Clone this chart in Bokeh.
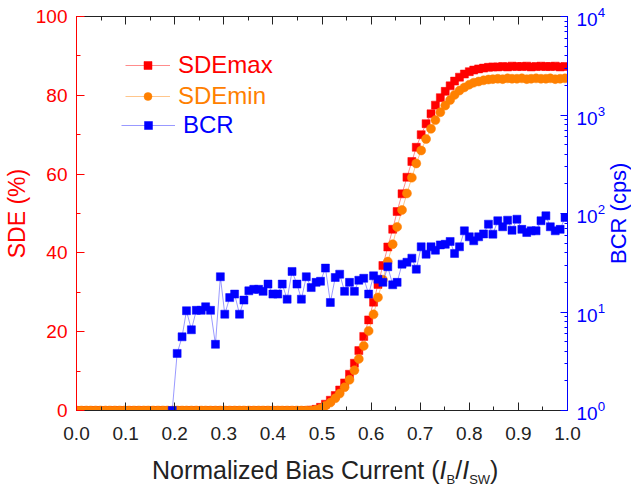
from bokeh.plotting import figure
from bokeh.models import (Range1d, LinearAxis, LogAxis, LogScale, SingleIntervalTicker,
                          LogTicker, Legend, LegendItem, NumeralTickFormatter,
                          CustomJSTickFormatter, Div)
from bokeh.layouts import column
from bokeh.embed import file_html
from bokeh.resources import INLINE

# ---- data ----
ib = [0.000, 0.010, 0.020, 0.029, 0.039, 0.049, 0.059, 0.068, 0.078, 0.088,
      0.098, 0.107, 0.117, 0.127, 0.137, 0.146, 0.156, 0.166, 0.176, 0.185,
      0.195, 0.205, 0.215, 0.224, 0.234, 0.244, 0.254, 0.263, 0.273, 0.283,
      0.293, 0.302, 0.312, 0.322, 0.332, 0.341, 0.351, 0.361, 0.371, 0.380,
      0.390, 0.400, 0.410, 0.419, 0.429, 0.439, 0.449, 0.458, 0.468, 0.478,
      0.488, 0.497, 0.507, 0.517, 0.527, 0.536, 0.546, 0.556, 0.566, 0.575,
      0.585, 0.595, 0.605, 0.614, 0.624, 0.634, 0.644, 0.653, 0.663, 0.673,
      0.683, 0.692, 0.702, 0.712, 0.722, 0.731, 0.741, 0.751, 0.761, 0.770,
      0.780, 0.790, 0.800, 0.809, 0.819, 0.829, 0.839, 0.848, 0.858, 0.868,
      0.878, 0.887, 0.897, 0.907, 0.917, 0.926, 0.936, 0.946, 0.956, 0.965,
      0.975, 0.985, 0.995]

sde_max = [0.0, 0.0, 0.0, 0.0, 0.0, 0.0, 0.0, 0.0, 0.0, 0.0,
           0.0, 0.0, 0.0, 0.0, 0.0, 0.0, 0.0, 0.0, 0.0, 0.0,
           0.0, 0.0, 0.0, 0.0, 0.0, 0.0, 0.0, 0.0, 0.0, 0.0,
           0.0, 0.0, 0.0, 0.0, 0.0, 0.0, 0.0, 0.0, 0.0, 0.0,
           0.0, 0.0, 0.0, 0.0, 0.0, 0.0, 0.0, 0.0, 0.0, 0.1,
           0.3, 0.8, 1.6, 2.6, 3.8, 5.2, 7.0, 9.2, 12.0, 15.2,
           18.8, 23.0, 27.5, 32.0, 36.8, 41.5, 46.0, 50.5, 55.0, 59.2,
           63.2, 66.8, 70.0, 72.8, 75.3, 77.5, 79.4, 81.0, 82.4, 83.6,
           84.6, 85.4, 86.0, 86.4, 86.7, 86.9, 87.1, 87.2, 87.2, 87.3,
           87.2, 87.4, 87.3, 87.3, 87.4, 87.2, 87.3, 87.4, 87.3, 87.3,
           87.4, 87.2, 87.3]

sde_min = [0.0, 0.0, 0.0, 0.0, 0.0, 0.0, 0.0, 0.0, 0.0, 0.0,
           0.0, 0.0, 0.0, 0.0, 0.0, 0.0, 0.0, 0.0, 0.0, 0.0,
           0.0, 0.0, 0.0, 0.0, 0.0, 0.0, 0.0, 0.0, 0.0, 0.0,
           0.0, 0.0, 0.0, 0.0, 0.0, 0.0, 0.0, 0.0, 0.0, 0.0,
           0.0, 0.0, 0.0, 0.0, 0.0, 0.0, 0.0, 0.0, 0.0, 0.0,
           0.2, 0.5, 1.2, 2.0, 3.1, 4.3, 5.9, 7.8, 10.2, 13.1,
           16.4, 20.2, 24.4, 28.7, 33.2, 37.8, 42.2, 46.6, 50.9, 55.1,
           59.1, 62.7, 66.0, 68.9, 71.5, 73.7, 75.7, 77.4, 78.8, 80.1,
           81.2, 82.0, 82.7, 83.2, 83.5, 83.8, 84.0, 84.1, 84.2, 84.1,
           84.3, 84.2, 84.2, 84.3, 84.1, 84.2, 84.3, 84.2, 84.2, 84.3,
           84.1, 84.2, 84.3]

bcr_x = ib[20:]
bcr = [1.0, 3.8, 5.6, 10.3, 6.6, 10.4, 10.4, 11.3, 10.4, 4.7,
       22.8, 9.5, 14.0, 15.2, 9.5, 13.2, 16.4, 17.0, 17.0, 16.2,
       19.2, 15.2, 15.2, 19.2, 13.5, 25.8, 19.2, 13.5, 22.8, 17.7,
       20.0, 20.5, 27.9, 12.5, 22.4, 24.2, 16.2, 20.0, 16.2, 21.0,
       22.0, 15.2, 23.3, 21.5, 20.0, 28.8, 18.9, 20.0, 30.6, 32.0,
       35.2, 27.2, 45.9, 38.6, 45.9, 42.4, 48.0, 48.7, 52.0, 39.3,
       45.9, 66.7, 58.0, 52.8, 58.0, 62.0, 77.9, 61.7, 84.4, 73.3,
       85.5, 67.6, 87.5, 69.0, 64.1, 66.7, 66.7, 84.4, 94.8, 73.3,
       66.7, 69.0, 91.0]

x_ticks_interval = 0.1
sde_ticks_interval = 20

FONT = "Liberation Sans"
RED = "#FF0000"
ORANGE = "#FF8000"
BLUE = "#0000FF"
DARK = "#222222"

p = figure(frame_width=491, frame_height=394, output_backend="svg", toolbar_location=None,
           x_range=Range1d(0, 1), y_range=Range1d(0, 100),
           min_border_left=68, min_border_right=39, min_border_top=16,
           min_border_bottom=41)
p.extra_y_ranges = {"bcr": Range1d(1, 1e4)}
p.extra_y_scales = {"bcr": LogScale()}
p.xgrid.visible = False
p.ygrid.visible = False
p.outline_line_color = None
p.background_fill_color = "white"
p.border_fill_color = "white"

# ---- bottom axis ----
xa = p.xaxis[0]
xa.ticker = SingleIntervalTicker(interval=x_ticks_interval, num_minor_ticks=2)
xa.formatter = NumeralTickFormatter(format="0.0")
xa.axis_line_color = DARK
xa.major_tick_line_color = DARK
xa.minor_tick_line_color = DARK
xa.major_tick_in = 8
xa.major_tick_out = 0
xa.minor_tick_in = 4
xa.minor_tick_out = 0
xa.major_label_text_font = FONT
xa.major_label_text_font_size = "19px"
xa.major_label_text_color = DARK
xa.major_label_standoff = 16

# ---- top axis (ticks only) ----
ta = LinearAxis(ticker=SingleIntervalTicker(interval=x_ticks_interval, num_minor_ticks=2),
                formatter=CustomJSTickFormatter(code="return ''"))
ta.axis_line_color = DARK
ta.major_tick_line_color = DARK
ta.minor_tick_line_color = DARK
ta.major_tick_in = 8
ta.major_tick_out = 0
ta.minor_tick_in = 4
ta.minor_tick_out = 0
ta.major_label_standoff = 0
p.add_layout(ta, "above")

# ---- left axis (SDE) ----
ya = p.yaxis[0]
ya.ticker = SingleIntervalTicker(interval=sde_ticks_interval, num_minor_ticks=2)
ya.axis_line_color = RED
ya.major_tick_line_color = RED
ya.minor_tick_line_color = RED
ya.major_tick_in = 8
ya.major_tick_out = 0
ya.minor_tick_in = 4
ya.minor_tick_out = 0
ya.major_label_text_font = FONT
ya.major_label_text_font_size = "19px"
ya.major_label_text_color = RED
ya.major_label_standoff = 9
ya.axis_label = "SDE (%)"
ya.axis_label_text_font = FONT
ya.axis_label_text_font_size = "23px"
ya.axis_label_text_font_style = "normal"
ya.axis_label_text_color = RED
ya.axis_label_standoff = 3

# ---- right axis (BCR, log) ----
ra = LogAxis(y_range_name="bcr", ticker=LogTicker(num_minor_ticks=10))
ra.axis_line_color = BLUE
ra.major_tick_line_color = BLUE
ra.minor_tick_line_color = BLUE
ra.major_tick_in = 7
ra.major_tick_out = 0
ra.minor_tick_in = 3
ra.minor_tick_out = 0
ra.major_label_text_font = FONT
ra.major_label_text_font_size = "19px"
ra.major_label_text_color = BLUE
ra.major_label_standoff = 9
p.add_layout(ra, "right")

# ---- data glyphs ----
l_max = p.line(ib, sde_max, line_color=RED, line_width=1, line_alpha=0.45)
s_max = p.scatter(ib, sde_max, marker="square", size=8, fill_color=RED, line_color=RED, line_width=0.5)
l_min = p.line(ib, sde_min, line_color=ORANGE, line_width=1, line_alpha=0.45)
s_min = p.scatter(ib, sde_min, marker="circle", size=9, fill_color=ORANGE, line_color=ORANGE, line_width=0.5)
l_bcr = p.line(bcr_x, bcr, line_color=BLUE, line_width=1, line_alpha=0.4, y_range_name="bcr")
s_bcr = p.scatter(bcr_x, bcr, marker="square", size=8, fill_color=BLUE, line_color=BLUE,
                  line_width=0.5, y_range_name="bcr")

# ---- legends (one per entry so each label gets its own colour) ----
def make_legend(label, rends, color, loc, gw):
    lg = Legend(items=[LegendItem(label=label, renderers=rends)], location=loc,
                label_text_color=color, label_text_font=FONT, label_text_font_size="24px",
                border_line_color=None, background_fill_alpha=0, padding=0, margin=0,
                spacing=0, glyph_width=gw, glyph_height=20, label_standoff=8,
                label_height=20)
    p.add_layout(lg, "center")

make_legend("SDEmax", [l_max, s_max], RED, (49, 331), 45)
make_legend("SDEmin", [l_min, s_min], ORANGE, (49, 300), 45)
make_legend("BCR", [l_bcr, s_bcr], BLUE, (45, 271), 54)

# ---- x-axis title (italic symbols, subscripts) and right-axis title ----
sub = "font-size:13px; position:relative; top:5px;"
bcr_title = ("<div style=\"position:absolute; left:608px; top:-443px; width:22px; height:410px; "
             "writing-mode:vertical-rl; transform:rotate(180deg); text-align:center; "
             "font-family:'Liberation Sans'; font-size:22px; line-height:22px; color:#0000FF; "
             "white-space:nowrap;\">BCR (cps)</div>")
x_title = Div(
    text=("<div style=\"position:relative; width:622px; height:10px;\">"
          "<div style=\"font-family:'Liberation Sans'; font-size:25px; line-height:16px; "
          "color:#222222; white-space:nowrap; padding-left:152px; padding-top:11px;\">"
          "Normalized Bias Current (<i>I</i><span style=\"" + sub + "\">B</span>/"
          "<i>I</i><span style=\"" + sub + "\">SW</span>)</div>" + bcr_title + "</div>"),
    width=622, height=10, margin=0, styles={"overflow": "visible"})

layout = column(p, x_title)
open("out.html", "w").write(file_html(layout, INLINE))
